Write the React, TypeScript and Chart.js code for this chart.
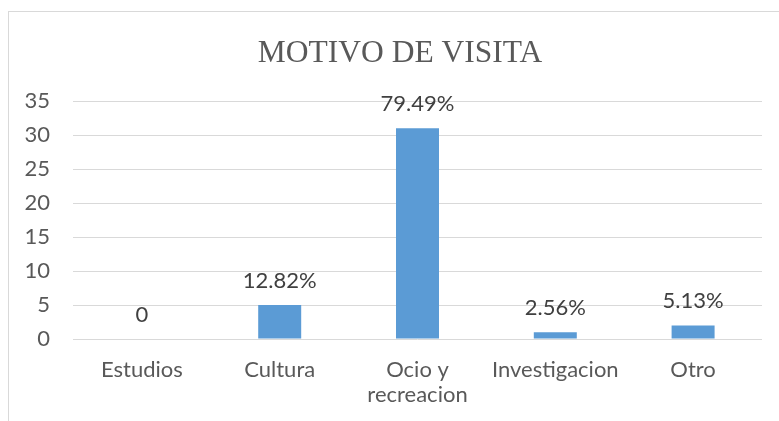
import React, { useEffect, useRef } from "react";
import { Chart, registerables } from "chart.js";

Chart.register(...registerables);

const categories: (string | string[])[] = ["Estudios", "Cultura", ["Ocio y", "recreacion"], "Investigacion", "Otro"];
const values: number[] = [0, 5, 31, 1, 2];
const valueLabels: string[] = ["0", "12.82%", "79.49%", "2.56%", "5.13%"];
const yTicks = { min: 0, max: 35, step: 5 };
const title = "MOTIVO DE VISITA";

const labelFont = "Lato, 'Open Sans', sans-serif";

const dataLabelPlugin = {
  id: "dataLabels",
  afterDatasetsDraw(chart: any) {
    const ctx = chart.ctx;
    const meta = chart.getDatasetMeta(0);
    ctx.save();
    ctx.font = `22px ${labelFont}`;
    ctx.fillStyle = "#404040";
    ctx.textAlign = "center";
    ctx.textBaseline = "middle";
    meta.data.forEach((el: any, i: number) => {
      ctx.fillText(valueLabels[i], el.x, el.y - 24);
    });
    ctx.restore();
  },
};

const titlePlugin = {
  id: "frameTitle",
  afterDraw(chart: any) {
    const ctx = chart.ctx;
    ctx.save();
    ctx.font = "31.5px 'Liberation Serif', 'DejaVu Serif', serif";
    ctx.fillStyle = "#595959";
    ctx.textAlign = "center";
    ctx.textBaseline = "alphabetic";
    ctx.fillText(title, 400, 62);
    ctx.restore();
  },
};

export default function App() {
  const ref = useRef<HTMLCanvasElement>(null);
  useEffect(() => {
    document.body.style.margin = "0";
    document.body.style.overflow = "hidden";
    const chart = new Chart(ref.current!, {
      type: "bar",
      data: {
        labels: categories,
        datasets: [
          {
            data: values,
            backgroundColor: "#5b9bd5",
            barPercentage: 1,
            categoryPercentage: 0.312,
          },
        ],
      },
      options: {
        animation: false,
        responsive: false,
        maintainAspectRatio: false,
        layout: { padding: { left: 0, right: 17, top: 101, bottom: 0 } },
        plugins: {
          legend: { display: false },
          tooltip: { enabled: false },
          title: { display: false },
        },
        scales: {
          x: {
            grid: { display: false, drawTicks: false },
            border: { display: false },
            ticks: {
              color: "#595959",
              font: { family: labelFont, size: 22, lineHeight: 1.14 },
              padding: 18,
              maxRotation: 0,
              autoSkip: false,
            },
            afterFit: (s: any) => {
              s.height = 82;
            },
          },
          y: {
            min: yTicks.min,
            max: yTicks.max,
            grid: { color: "#d9d9d9", lineWidth: 1, drawTicks: false },
            border: { display: false },
            ticks: {
              stepSize: yTicks.step,
              color: "#595959",
              font: { family: labelFont, size: 22 },
              padding: 23,
            },
            afterFit: (s: any) => {
              s.width = 73;
            },
          },
        },
      },
      plugins: [dataLabelPlugin, titlePlugin],
    });
    return () => chart.destroy();
  }, []);
  return (
    <div style={{ position: "relative", width: 779, height: 421, overflow: "hidden", background: "#fff" }}>
      <div
        style={{
          position: "absolute",
          left: 8,
          top: 11,
          width: 820,
          height: 450,
          border: "1px solid #d9d9d9",
          boxSizing: "border-box",
        }}
      />
      <canvas ref={ref} width={779} height={421} style={{ position: "absolute", left: 0, top: 0 }} />
    </div>
  );
}
